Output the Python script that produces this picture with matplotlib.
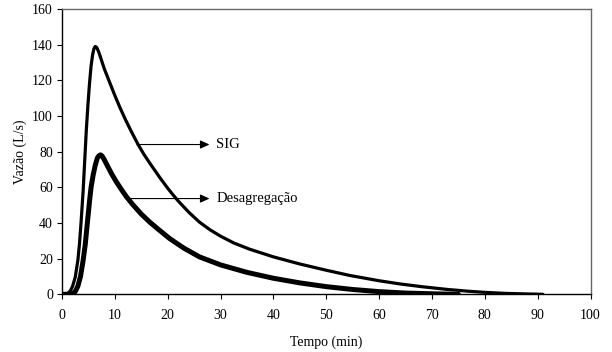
import matplotlib
matplotlib.use("Agg")
import matplotlib.pyplot as plt

# SIG hydrograph (time in min, discharge in L/s)
sig_t = [0, 0.6, 1.0, 1.6, 2.0, 2.5, 3.0, 3.3, 3.6, 4.0, 4.3, 4.6, 4.9, 5.2, 5.5, 5.8, 6.05, 6.3,
         6.6, 7.0, 7.5, 8.0, 9.0, 10, 11, 12, 13, 14.4, 15.5, 16.6, 18.5, 20, 21, 22, 24,
         26, 28, 30, 32.5, 35.5, 40, 45, 50, 54.4, 60, 64, 68, 73, 77, 80, 84, 88, 91]
sig_q = [0, 0, 0.3, 2, 4.5, 9.5, 19, 28, 40, 58, 75, 92, 106, 118, 128, 134.5, 137.8, 139,
         138.3, 135.5, 131, 126.5, 119, 111.5, 104.5, 98, 92, 84, 78.5, 73.6, 65.5, 59.5, 55.8, 52.3, 46,
         40.5, 36.2, 32.6, 28.8, 25.3, 21, 17, 13.5, 10.6, 7.6, 5.8, 4.3, 2.7, 1.7, 1.1, 0.5, 0.2, 0]

# Desagregação hydrograph
des_t = [0, 1.5, 2.0, 2.5, 3.0, 3.5, 4.0, 4.4, 4.8, 5.2, 5.5, 5.9, 6.3, 6.7, 7.0, 7.3, 7.6, 8.0,
         8.6, 9.4, 10.3, 11.3, 12.2, 13.4, 15, 16.6, 18, 20.4, 23, 26, 30, 35, 40, 45, 50, 55, 60,
         65, 70, 75]
des_q = [0, 0, 0.4, 1.5, 4.5, 10, 19, 28, 40, 52, 60, 67, 72.5, 76.5, 77.8, 78.2, 77.5, 75.5,
         72, 67.5, 63, 58.5, 54.7, 50.3, 45, 40.5, 37, 31.2, 26, 21, 16.5, 12.3, 9.0, 6.4, 4.3, 2.7, 1.5,
         0.7, 0.3, 0]

x_ticks = [0, 10, 20, 30, 40, 50, 60, 70, 80, 90, 100]
y_ticks = [0, 20, 40, 60, 80, 100, 120, 140, 160]

plt.rcParams['font.family'] = ['Liberation Serif', 'DejaVu Serif']

fig = plt.figure(figsize=(6.12, 3.52), dpi=100)
ax = fig.add_axes([0.1013, 0.1639, 0.9649 - 0.1013, 0.9744 - 0.1639])

ax.plot(sig_t, sig_q, color='black', lw=2.3, solid_capstyle='round', solid_joinstyle='round')
ax.plot(des_t, des_q, color='black', lw=3.6, solid_capstyle='round', solid_joinstyle='round')

ax.set_xlim(0, 100)
ax.set_ylim(0, 160)
ax.set_xticks(x_ticks)
ax.set_yticks(y_ticks)
ax.tick_params(direction='out', length=3.5, width=0.8, labelsize=10, colors='black')
ax.tick_params(axis='x', pad=7)
ax.tick_params(axis='y', pad=3)

for s in ['top', 'right']:
    ax.spines[s].set_color('#666666')
    ax.spines[s].set_linewidth(1.0)
for s in ['left', 'bottom']:
    ax.spines[s].set_color('black')
    ax.spines[s].set_linewidth(1.0)

ax.set_xlabel('Tempo (min)', fontsize=10, labelpad=10)
ax.set_ylabel('Vazão (L/s)', fontsize=10, labelpad=4)

arrow_kw = dict(arrowstyle='-|>,head_length=0.55,head_width=0.25', color='black', lw=0.8,
                shrinkA=0, shrinkB=0)
ax.annotate('', xy=(27.9, 84), xytext=(14.2, 84), arrowprops=arrow_kw)
ax.annotate('', xy=(27.9, 53.7), xytext=(12.0, 53.7), arrowprops=arrow_kw)
ax.text(29.2, 84, 'SIG', fontsize=10.5, va='center', ha='left')
ax.text(29.2, 53.7, 'Desagregação', fontsize=10.5, va='center', ha='left')

fig.savefig('out.png', dpi=100)
